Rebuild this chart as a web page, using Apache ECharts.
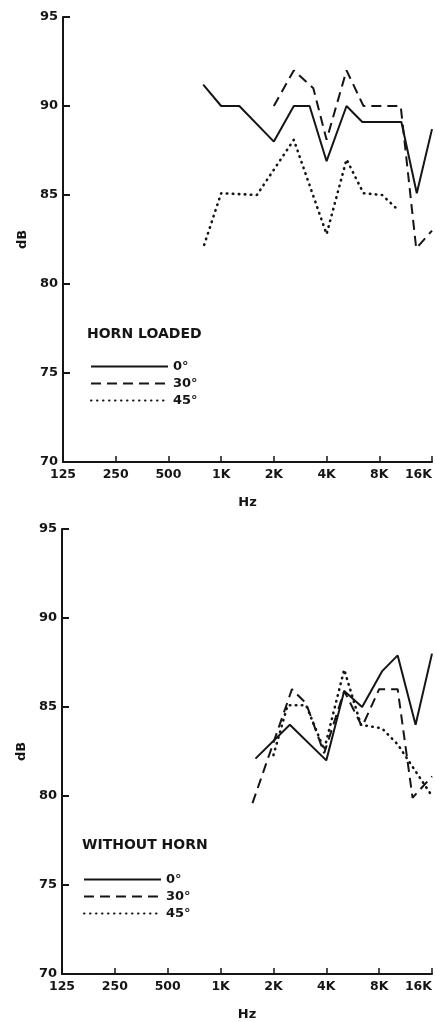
<!DOCTYPE html>
<html>
<head>
<meta charset="utf-8">
<script src="https://cdn.jsdelivr.net/npm/echarts@6/dist/echarts.min.js"></script>
<style>
html,body{margin:0;padding:0;background:#fff;overflow:hidden;}
#c{width:435px;height:1022px;}
</style>
</head>
<body>
<div id="c"></div>
<script>
// ---- data ----
const tickLabels = ['125','250','500','1K','2K','4K','8K','16K'];
const seriesNames = ['0°','30°','45°'];
const panelTitles = ['HORN LOADED','WITHOUT HORN'];

// Horn loaded (frequency Hz, level dB)
const hornFreq0  = [790,1000,1270,2000,2600,3200,4000,5200,6400,10700,13100,16000];
const horn0      = [91.2,90,90,88,90,90,86.9,90,89.1,89.1,85.1,88.7];
const hornFreq30 = [2000,2600,3360,4000,5200,6500,10600,13000,16000];
const horn30     = [90,92,91,88.1,92,90,90,82,83];
const hornFreq45 = [800,1000,1600,2600,4000,5200,6500,8300,10400];
const horn45     = [82.2,85.1,85,88.1,82.8,87,85.1,85,84.1];

// Without horn
const bareFreq0  = [1580,2480,4000,5060,6400,8300,10200,12900,16000];
const bare0      = [82.1,84,82,85.9,85,87,87.9,84,88];
const bareFreq30 = [1520,2550,3070,3890,5060,6400,8000,10200,12400,16000];
const bare30     = [79.6,86,85.2,82.4,85.9,83.9,86,86,79.9,81.1];
const bareFreq45 = [2000,2410,3070,3890,5060,6300,8300,10200,16000];
const bare45     = [82.3,85.1,85.1,82.6,87.1,84,83.8,82.9,80];

// ---- build ----
const INK = '#151515';
const FONT = '"DejaVu Sans", sans-serif';
const oct = f => Math.log2(f / 125);
const pts = (fs, vs) => fs.map((f, i) => [oct(f), vs[i]]);

const styles = [
  {type: 'solid', width: 2},
  {type: [10, 6], width: 2},
  {type: [0.5, 5.5], width: 2.6, cap: 'round'}
];

function mkSeries(name, data, idx, k) {
  return {
    type: 'line', name: name, xAxisIndex: idx, yAxisIndex: idx,
    data: data, symbol: 'none', smooth: false, animation: false,
    lineStyle: Object.assign({color: INK}, styles[k]),
    itemStyle: {color: INK}
  };
}

function xAx(idx) {
  return {
    type: 'value', gridIndex: idx, min: 0, max: 7, interval: 1,
    name: 'Hz', nameLocation: 'middle', nameGap: 34,
    nameTextStyle: {fontFamily: FONT, fontWeight: 'bold', fontSize: 13, color: INK},
    axisLine: {lineStyle: {color: INK, width: 2}},
    axisTick: {inside: true, length: 6, lineStyle: {color: INK, width: 1.5}},
    axisLabel: {
      margin: 6, fontFamily: FONT, fontWeight: 'bold', fontSize: 12.5, color: INK,
      alignMaxLabel: 'right',
      formatter: v => tickLabels[Math.round(v)] || ''
    },
    splitLine: {show: false}
  };
}
function yAx(idx) {
  return {
    type: 'value', gridIndex: idx, min: 70, max: 95, interval: 5,
    name: 'dB', nameLocation: 'middle', nameGap: 34, nameRotate: 90,
    nameTextStyle: {fontFamily: FONT, fontWeight: 'bold', fontSize: 13, color: INK},
    axisLine: {show: true, lineStyle: {color: INK, width: 2}},
    axisTick: {show: true, inside: true, length: 7, lineStyle: {color: INK, width: 2}},
    axisLabel: {margin: 5, fontFamily: FONT, fontWeight: 'bold', fontSize: 13, color: INK},
    splitLine: {show: false}
  };
}
function legend(left, top) {
  return {
    orient: 'vertical', left: left, top: top,
    itemWidth: 77, itemHeight: 12, itemGap: 4,
    data: seriesNames,
    selectedMode: false,
    itemStyle: {color: 'rgba(0,0,0,0)', borderWidth: 0, opacity: 0},
    textStyle: {fontFamily: FONT, fontWeight: 'bold', fontSize: 13, color: INK}
  };
}

const chart = echarts.init(document.getElementById('c'), null, {renderer: 'canvas'});
chart.setOption({
  backgroundColor: '#fff',
  animation: false,
  grid: [
    {left: 63, top: 17, width: 372, height: 445, containLabel: false},
    {left: 62, top: 529, width: 373, height: 446, containLabel: false}
  ],
  xAxis: [xAx(0), xAx(1)],
  yAxis: [yAx(0), yAx(1)],
  title: [
    {text: panelTitles[0], left: 87, top: 327, padding: 0,
     textStyle: {fontFamily: FONT, fontWeight: 'bold', fontSize: 14, color: INK}},
    {text: panelTitles[1], left: 82, top: 838, padding: 0,
     textStyle: {fontFamily: FONT, fontWeight: 'bold', fontSize: 14, color: INK}}
  ],
  legend: [legend(85, 355), legend(78, 868)],
  series: [
    mkSeries(seriesNames[0], pts(hornFreq0, horn0), 0, 0),
    mkSeries(seriesNames[1], pts(hornFreq30, horn30), 0, 1),
    mkSeries(seriesNames[2], pts(hornFreq45, horn45), 0, 2),
    mkSeries(seriesNames[0], pts(bareFreq0, bare0), 1, 0),
    mkSeries(seriesNames[1], pts(bareFreq30, bare30), 1, 1),
    mkSeries(seriesNames[2], pts(bareFreq45, bare45), 1, 2)
  ]
});
</script>
</body>
</html>
